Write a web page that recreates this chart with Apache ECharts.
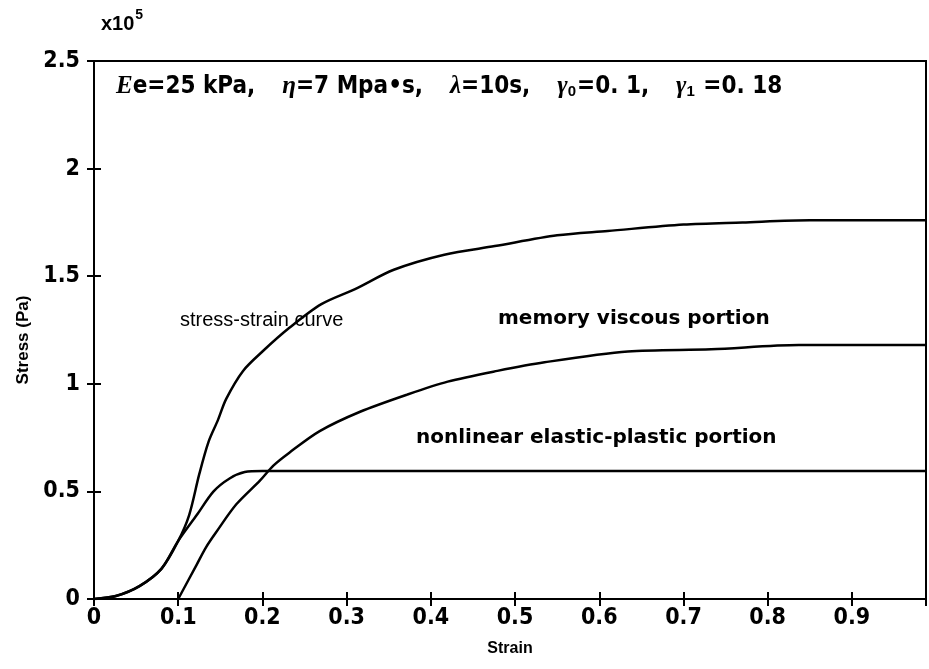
<!DOCTYPE html>
<html>
<head>
<meta charset="utf-8">
<script src="https://cdn.jsdelivr.net/npm/echarts@6/dist/echarts.min.js"></script>
<style>
  html, body { margin: 0; padding: 0; background: #fff; }
  #chart { width: 929px; height: 669px; }
</style>
</head>
<body>
<div id="chart"></div>
<script>
// stress-strain curve (stress in x10^5 Pa)
var totalStrain = [0, 0.026, 0.054, 0.08, 0.1, 0.113, 0.125, 0.136, 0.147, 0.157, 0.177, 0.2, 0.232, 0.27, 0.31, 0.356, 0.416, 0.476, 0.55, 0.61, 0.7, 0.77, 0.85, 0.9, 0.988];
var totalStress = [0, 0.014, 0.06, 0.14, 0.27, 0.39, 0.58, 0.73, 0.83, 0.93, 1.06, 1.15, 1.26, 1.37, 1.44, 1.53, 1.60, 1.64, 1.69, 1.71, 1.74, 1.75, 1.76, 1.76, 1.76];

// nonlinear elastic-plastic portion
var elasticStrain = [0, 0.026, 0.054, 0.08, 0.1, 0.122, 0.142, 0.161, 0.179, 0.2, 0.4, 0.6, 0.8, 0.988];
var elasticStress = [0, 0.014, 0.06, 0.14, 0.27, 0.39, 0.50, 0.56, 0.59, 0.595, 0.595, 0.595, 0.595, 0.595];

// memory viscous portion
var viscousStrain = [0.1, 0.122, 0.133, 0.145, 0.169, 0.197, 0.213, 0.232, 0.268, 0.316, 0.372, 0.42, 0.479, 0.535, 0.634, 0.733, 0.837, 0.988];
var viscousStress = [0, 0.16, 0.24, 0.31, 0.44, 0.55, 0.62, 0.68, 0.78, 0.87, 0.95, 1.01, 1.06, 1.10, 1.15, 1.16, 1.18, 1.18];

var xTicks = [0, 0.1, 0.2, 0.3, 0.4, 0.5, 0.6, 0.7, 0.8, 0.9];
var yTicks = [0, 0.5, 1, 1.5, 2, 2.5];

function pairs(xs, ys) {
  return xs.map(function (x, i) { return [x, ys[i]]; });
}

function tickText(list) {
  return function (v) {
    var idx = list.findIndex(function (t) { return Math.abs(t - v) < 1e-6; });
    return idx >= 0 ? String(list[idx]) : '';
  };
}

var tickFont = {
  fontFamily: '"Liberation Sans Narrow", "DejaVu Sans Condensed", sans-serif',
  fontWeight: 'bold',
  fontSize: 23,
  color: '#000'
};
var nameFont = { fontFamily: 'Arial, "Liberation Sans", sans-serif', fontWeight: 'bold', fontSize: 16, color: '#000' };
var axisLine = { show: true, lineStyle: { color: '#000', width: 2 } };
var axisTick = { inside: true, length: 7, lineStyle: { color: '#000', width: 2 } };

var chart = echarts.init(document.getElementById('chart'));

var lineStyle = { color: '#000', width: 2.5 };

chart.setOption({
  backgroundColor: '#fff',
  animation: false,
  grid: {
    left: 94, right: 3, top: 61, bottom: 70,
    show: true, borderColor: '#000', borderWidth: 2
  },
  xAxis: [{
    type: 'value',
    min: 0, max: 0.988, interval: 0.1,
    name: 'Strain', nameLocation: 'middle', nameGap: 42,
    nameTextStyle: nameFont,
    axisLine: axisLine,
    axisTick: axisTick,
    axisLabel: Object.assign({ margin: 8, showMaxLabel: false, formatter: tickText(xTicks) }, tickFont),
    splitLine: { show: false }
  }, {
    type: 'value', position: 'top',
    min: 0, max: 0.988, interval: 0.1,
    axisLine: axisLine,
    axisTick: axisTick,
    axisLabel: { show: false },
    splitLine: { show: false }
  }],
  yAxis: [{
    type: 'value',
    min: 0, max: 2.5, interval: 0.5,
    axisLine: axisLine,
    axisTick: axisTick,
    axisLabel: Object.assign({ margin: 14, formatter: tickText(yTicks) }, tickFont),
    splitLine: { show: false }
  }, {
    type: 'value', position: 'right',
    min: 0, max: 2.5, interval: 0.5,
    axisLine: axisLine,
    axisTick: axisTick,
    axisLabel: { show: false },
    splitLine: { show: false }
  }],
  graphic: [
    {
      // y axis title, rotated
      type: 'text', x: 23, y: 340, rotation: Math.PI / 2,
      style: {
        text: 'Stress (Pa)', font: 'bold 17px Arial, "Liberation Sans", sans-serif',
        fill: '#000', align: 'center', verticalAlign: 'middle'
      }
    },
    {
      type: 'text', left: 101, top: 8,
      style: {
        text: '{b|x10}{s|5}',
        rich: {
          b: { fontFamily: 'Arial, sans-serif', fontWeight: 'bold', fontSize: 20, fill: '#000', verticalAlign: 'bottom' },
          s: { fontFamily: 'Arial, sans-serif', fontWeight: 'bold', fontSize: 14, fill: '#000', verticalAlign: 'top', padding: [0, 0, 12, 1] }
        }
      }
    },
    {
      type: 'text', left: 116, top: 74,
      style: {
        text: '{i|E}{n|e=25 kPa,}{g|}{i|η}{n|=7 Mpa•s,}{g|}{i|λ}{n|=10s,}{g|}{i|γ}{s|0}{n|=0. 1,}{g|}{i|γ}{s|1}{n| =0. 18}',
        rich: {
          n: { fontFamily: '"Liberation Sans Narrow", "DejaVu Sans Condensed", sans-serif', fontWeight: 'bold', fontSize: 24, fill: '#000' },
          i: { fontFamily: '"Liberation Serif", serif', fontStyle: 'italic', fontWeight: 'bold', fontSize: 25, fill: '#000' },
          s: { fontFamily: '"Liberation Sans Narrow", sans-serif', fontWeight: 'bold', fontSize: 15, fill: '#000', verticalAlign: 'bottom', padding: [8, 1, 0, 0] },
          g: { width: 27, fontSize: 24 }
        }
      }
    },
    {
      type: 'text', left: 180, top: 310,
      style: { text: 'stress-strain curve', font: '20px Arial, "Liberation Sans", sans-serif', fill: '#000' }
    },
    {
      type: 'text', left: 498, top: 309,
      style: { text: 'memory viscous portion', font: 'bold 20px "DejaVu Sans", sans-serif', fill: '#000' }
    },
    {
      type: 'text', left: 416, top: 428,
      style: { text: 'nonlinear elastic-plastic portion', font: 'bold 20px "DejaVu Sans", sans-serif', fill: '#000' }
    }
  ],
  series: [
    {
      name: 'stress-strain curve', type: 'line', smooth: 0.3, symbol: 'none',
      lineStyle: lineStyle, data: pairs(totalStrain, totalStress)
    },
    {
      name: 'nonlinear elastic-plastic portion', type: 'line', smooth: 0.3, symbol: 'none',
      lineStyle: lineStyle, data: pairs(elasticStrain, elasticStress)
    },
    {
      name: 'memory viscous portion', type: 'line', smooth: 0.3, symbol: 'none',
      lineStyle: lineStyle, data: pairs(viscousStrain, viscousStress)
    }
  ]
});
</script>
</body>
</html>
